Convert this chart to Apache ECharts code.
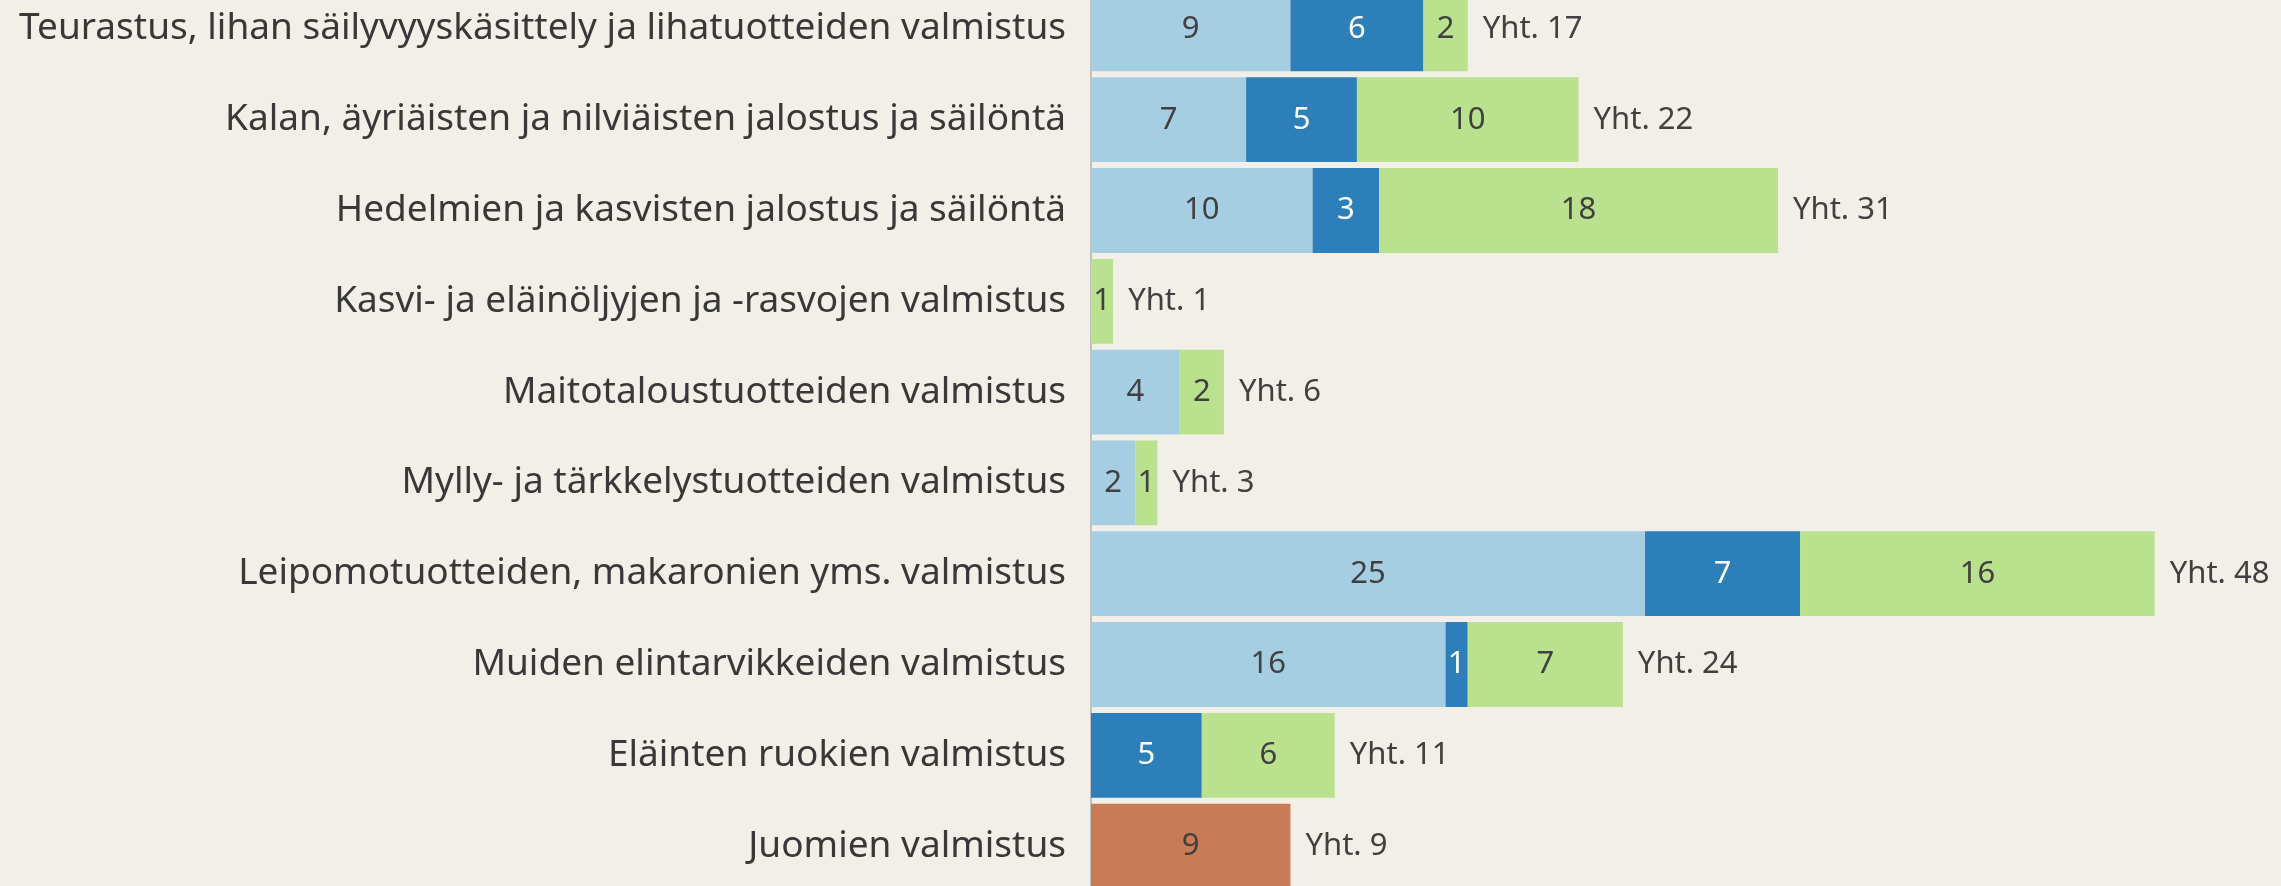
<!DOCTYPE html>
<html>
<head>
<meta charset="utf-8">
<script src="https://cdn.jsdelivr.net/npm/echarts@6/dist/echarts.min.js"></script>
<style>
  html, body { margin: 0; padding: 0; background: #f2efe8; }
  #chart { width: 2281px; height: 886px; }
</style>
</head>
<body>
<div id="chart"></div>
<script>
// toimialat ylhäältä alas
var categories = [
  'Teurastus, lihan säilyvyyskäsittely ja lihatuotteiden valmistus',
  'Kalan, äyriäisten ja nilviäisten jalostus ja säilöntä',
  'Hedelmien ja kasvisten jalostus ja säilöntä',
  'Kasvi- ja eläinöljyjen ja -rasvojen valmistus',
  'Maitotaloustuotteiden valmistus',
  'Mylly- ja tärkkelystuotteiden valmistus',
  'Leipomotuotteiden, makaronien yms. valmistus',
  'Muiden elintarvikkeiden valmistus',
  'Eläinten ruokien valmistus',
  'Juomien valmistus'
]
var lightBlue = [9, 7, 10, 0, 4, 2, 25, 16, 0, 0]
var darkBlue = [6, 5, 3, 0, 0, 0, 7, 1, 5, 0]
var green = [2, 10, 18, 1, 2, 1, 16, 7, 6, 0]
var orange = [0, 0, 0, 0, 0, 0, 0, 0, 0, 9]
var totals = categories.map(function (c, i) {
  return lightBlue[i] + darkBlue[i] + green[i] + orange[i]
})

var font = '"Noto Sans", "DejaVu Sans", sans-serif'

function segment(name, data, color, labelColor) {
  return {
    name: name,
    type: 'bar',
    stack: 'all',
    data: data,
    barCategoryGap: '6.6%',
    itemStyle: { color: color },
    label: {
      show: true,
      position: 'inside',
      color: labelColor,
      fontFamily: font,
      fontSize: 31,
      formatter: function (p) { return p.value ? p.value : '' }
    },
    silent: true
  }
}

var chart = echarts.init(document.getElementById('chart'))
chart.setOption({
  backgroundColor: '#f2efe8',
  animation: false,
  grid: {
    left: 1091,
    right: 82,
    top: -16.5,
    bottom: -5.5,
    containLabel: false,
    outerBoundsMode: 'none'
  },
  xAxis: {
    type: 'value',
    min: 0,
    max: 50,
    show: false
  },
  yAxis: {
    type: 'category',
    inverse: true,
    data: categories,
    axisTick: { show: false },
    axisLine: { show: true, lineStyle: { color: '#c0c0c0', width: 2 } },
    axisLabel: {
      margin: 25,
      color: '#383838',
      fontFamily: font,
      fontSize: 37
    },
    splitLine: { show: false }
  },
  series: [
    segment('a', lightBlue, '#a6cee3', '#404040'),
    segment('b', darkBlue, '#2c7fb8', '#ffffff'),
    segment('c', green, '#b9e18e', '#404040'),
    segment('d', orange, '#c97b56', '#404040'),
    {
      name: 'yht',
      type: 'bar',
      stack: 'all',
      data: totals.map(function () { return 0 }),
      itemStyle: { color: 'transparent' },
      label: {
        show: true,
        position: 'right',
        distance: 15,
        color: '#404040',
        fontFamily: font,
        fontSize: 31,
        formatter: function (p) { return 'Yht. ' + totals[p.dataIndex] }
      },
      silent: true
    }
  ]
})
</script>
</body>
</html>
